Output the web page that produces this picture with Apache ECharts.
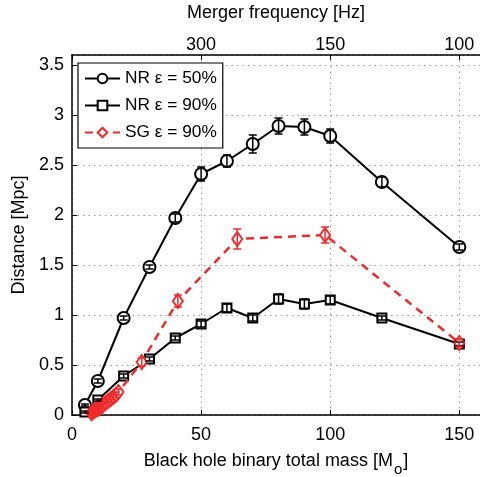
<!DOCTYPE html>
<html>
<head>
<meta charset="utf-8">
<script src="https://cdn.jsdelivr.net/npm/echarts@6.0.0/dist/echarts.min.js"></script>
<style>
  html, body { margin: 0; padding: 0; background: #fff; }
  #chart { width: 480px; height: 477px; }
</style>
</head>
<body>
<div id="chart"></div>
<script>
// NR runs share the same total masses
const massNR = [5, 10, 20, 30, 40, 50, 60, 70, 80, 90, 100, 120, 150]
const distNR50 = [0.10, 0.34, 0.97, 1.48, 1.97, 2.41, 2.54, 2.71, 2.89, 2.88, 2.79, 2.33, 1.68]
const errNR50 = [0.01, 0.02, 0.02, 0.02, 0.04, 0.07, 0.06, 0.09, 0.08, 0.08, 0.07, 0.05, 0.03]
const distNR90 = [0.03, 0.15, 0.39, 0.56, 0.77, 0.91, 1.07, 0.97, 1.16, 1.11, 1.15, 0.97, 0.71]
const errNR90 = [0.01, 0.01, 0.02, 0.02, 0.02, 0.03, 0.04, 0.03, 0.05, 0.05, 0.04, 0.02, 0.02]

const massSG = [7.5, 8, 8.5, 9, 9.5, 10, 10.5, 11, 11.5, 12, 13, 14, 15, 16, 17, 18, 27, 41, 64, 98, 150]
const distSG = [0.02, 0.03, 0.04, 0.05, 0.06, 0.06, 0.07, 0.08, 0.09, 0.10, 0.12, 0.14, 0.16, 0.18, 0.20, 0.23, 0.53, 1.14, 1.76, 1.80, 0.72]
const errSG = [0.02, 0.02, 0.02, 0.02, 0.02, 0.02, 0.02, 0.02, 0.02, 0.02, 0.02, 0.02, 0.03, 0.03, 0.03, 0.03, 0.04, 0.06, 0.10, 0.08, 0.04]

// top axis: merger frequency at given masses
const topTickMass = [50, 100, 150]
const topTickLabels = ['300', '150', '100']

const legendNames = ['NR ε = 50%', 'NR ε = 90%', 'SG ε = 90%']

const RED = '#ee2a2a'
const FONT = '"Liberation Sans", Arial, sans-serif'

const pairs = (xs, ys) => xs.map((x, i) => [x, ys[i]])
const bars = (xs, ys, es) => xs.map((x, i) => [x, ys[i] - es[i], ys[i] + es[i]])

function errorBars(color) {
  return (params, api) => {
    const x = api.value(0)
    const top = api.coord([x, api.value(2)])
    const bot = api.coord([x, api.value(1)])
    const w = 4
    const style = { stroke: color, lineWidth: 1.5 }
    return {
      type: 'group',
      children: [
        { type: 'line', shape: { x1: top[0], y1: top[1], x2: bot[0], y2: bot[1] }, style },
        { type: 'line', shape: { x1: top[0] - w, y1: top[1], x2: top[0] + w, y2: top[1] }, style },
        { type: 'line', shape: { x1: bot[0] - w, y1: bot[1], x2: bot[0] + w, y2: bot[1] }, style },
      ],
    }
  }
}

const chart = echarts.init(document.getElementById('chart'), null, { renderer: 'canvas' })

const gridLine = { show: true, lineStyle: { color: '#9a9a9a', width: 1, type: [1.5, 4] } }
const axisLine = { show: true, onZero: false, lineStyle: { color: '#000', width: 1.5 } }
const tick = { show: true, inside: true, length: 5, lineStyle: { color: '#000', width: 1 } }
const labelFont = { color: '#000', fontSize: 18, fontFamily: FONT }

chart.setOption({
  animation: false,
  textStyle: { fontFamily: FONT },
  grid: { left: 72, right: 0, top: 55, bottom: 62, outerBoundsMode: 'none', containLabel: false },
  legend: {
    data: legendNames,
    orient: 'vertical',
    left: 78, top: 63,
    itemWidth: 35, itemHeight: 12, itemGap: 10,
    padding: [7, 6, 7, 6],
    backgroundColor: '#fff',
    borderColor: '#000', borderWidth: 1.2,
    textStyle: { color: '#000', fontSize: 17.3, fontFamily: FONT },
  },
  xAxis: [
    {
      type: 'value', min: 0, max: 158, interval: 50,
      name: 'Black hole binary total mass [M{sub|o}]',
      nameLocation: 'middle', nameGap: 31,
      nameTextStyle: {
        color: '#000', fontSize: 18, fontFamily: FONT,
        rich: { sub: { fontSize: 15, verticalAlign: 'bottom', padding: [16, 1, 0, 1], fontFamily: FONT, color: '#000' } },
      },
      axisLine, axisTick: tick,
      axisLabel: { ...labelFont, margin: 11, showMaxLabel: false },
      splitLine: gridLine,
    },
    {
      type: 'value', position: 'top', min: 0, max: 158, interval: 50,
      name: 'Merger frequency [Hz]',
      nameLocation: 'middle', nameGap: 33,
      nameTextStyle: { color: '#000', fontSize: 18, fontFamily: FONT },
      axisLine, axisTick: tick,
      axisLabel: {
        ...labelFont, margin: 1, showMaxLabel: false,
        formatter: v => {
          const i = topTickMass.indexOf(v)
          return i < 0 ? '' : topTickLabels[i]
        },
      },
      splitLine: { show: false },
    },
  ],
  yAxis: {
    type: 'value', min: 0, max: 3.6, interval: 0.5,
    name: 'Distance [Mpc]',
    nameLocation: 'middle', nameGap: 32,
    nameTextStyle: { color: '#000', fontSize: 18, fontFamily: FONT },
    axisLine, axisTick: tick,
    axisLabel: { ...labelFont, margin: 8, showMaxLabel: false },
    splitLine: gridLine,
  },
  series: [
    {
      name: legendNames[0], type: 'line', data: pairs(massNR, distNR50),
      symbol: 'emptyCircle', symbolSize: 12,
      lineStyle: { color: '#000', width: 2 },
      itemStyle: { color: '#000', borderWidth: 1.8 },
      z: 3,
    },
    {
      name: legendNames[1], type: 'line', data: pairs(massNR, distNR90),
      symbol: 'emptyRect', symbolSize: 9,
      lineStyle: { color: '#000', width: 2 },
      itemStyle: { color: '#000', borderWidth: 1.8 },
      z: 3,
    },
    {
      name: legendNames[2], type: 'line', data: pairs(massSG, distSG),
      symbol: 'emptyDiamond', symbolSize: [10, 14],
      lineStyle: { color: RED, width: 2.5, type: [8, 6] },
      itemStyle: { color: RED, borderWidth: 2 },
      z: 4,
    },
    { name: 'errNR50', type: 'custom', data: bars(massNR, distNR50, errNR50), renderItem: errorBars('#000'), z: 5 },
    { name: 'errNR90', type: 'custom', data: bars(massNR, distNR90, errNR90), renderItem: errorBars('#000'), z: 5 },
    { name: 'errSG', type: 'custom', data: bars(massSG, distSG, errSG), renderItem: errorBars(RED), z: 6 },
  ],
})
</script>
</body>
</html>
